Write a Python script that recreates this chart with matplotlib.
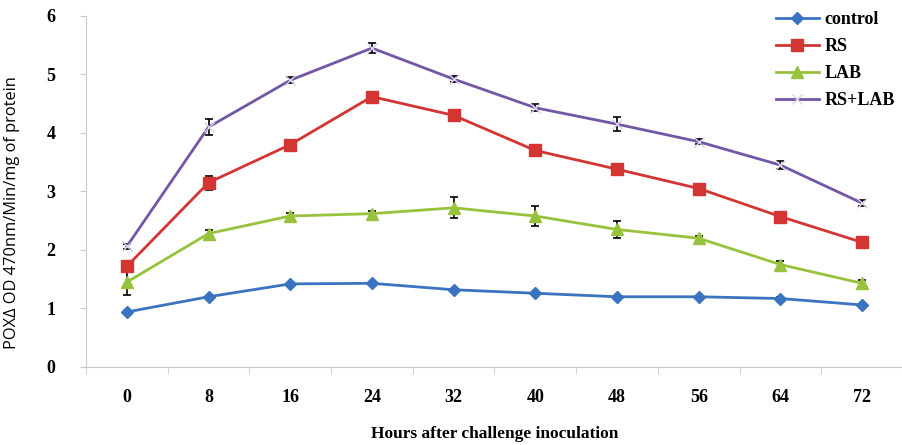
import numpy as np
import matplotlib.pyplot as plt

hours = ['0', '8', '16', '24', '32', '40', '48', '56', '64', '72']

control = [0.94, 1.20, 1.42, 1.43, 1.32, 1.26, 1.20, 1.20, 1.17, 1.06]
rs = [1.72, 3.15, 3.80, 4.62, 4.30, 3.70, 3.38, 3.05, 2.57, 2.13]
lab = [1.45, 2.28, 2.58, 2.62, 2.72, 2.58, 2.35, 2.20, 1.75, 1.43]
rs_lab = [2.06, 4.10, 4.90, 5.45, 4.92, 4.43, 4.15, 3.85, 3.45, 2.80]

control_err = [0.02, 0.02, 0.02, 0.02, 0.02, 0.02, 0.02, 0.02, 0.02, 0.02]
rs_err = [0.04, 0.12, 0.03, 0.03, 0.03, 0.03, 0.08, 0.03, 0.03, 0.03]
lab_err = [0.22, 0.06, 0.06, 0.05, 0.18, 0.17, 0.15, 0.04, 0.06, 0.06]
rs_lab_err = [0.05, 0.13, 0.05, 0.08, 0.05, 0.06, 0.12, 0.04, 0.07, 0.05]

x = np.arange(len(hours))

fig = plt.figure(figsize=(9.03, 4.45), dpi=100)
ax = fig.add_axes([0.0952, 0.1753, 0.9048, 0.789])

series = [
    ('control', control, control_err, '#3a73c0', 'D', 6),
    ('RS', rs, rs_err, '#d33532', 's', 8),
    ('LAB', lab, lab_err, '#97c23c', '^', 8),
    ('RS+LAB', rs_lab, rs_lab_err, '#7356a6', 'x', 7),
]

for name, vals, err, col, mk, ms in series:
    # error bars go underneath so the markers hide the tiny ones
    ax.errorbar(x, vals, yerr=err, fmt='none', ecolor='black',
                elinewidth=1.2, capsize=3, capthick=1.2, zorder=1)
    ax.plot(x, vals, color=col, lw=2.0, marker=mk, markersize=ms,
            markeredgecolor='#d8d0e8' if mk == 'x' else col,
            markeredgewidth=1.0, label=name, zorder=2)

ax.set_xlim(-0.5, len(hours) - 0.5)
ax.set_ylim(0, 6)
ax.set_yticks(range(7))

serif = {'family': 'Liberation Serif', 'weight': 'bold', 'size': 13}
ax.set_xticks(x)
ax.set_xticklabels(hours, fontdict=serif)
ax.set_yticklabels([str(v) for v in range(7)], fontdict=serif)

# category axis ticks sit between the groups
ax.set_xticks(np.arange(-0.5, len(hours)), minor=True)
ax.tick_params(axis='x', which='major', length=0, pad=16)
ax.tick_params(axis='x', which='minor', length=5, color='#c8c8c8', direction='out')
ax.tick_params(axis='y', length=4, color='#c8c8c8', pad=18)

for side in ['top', 'right']:
    ax.spines[side].set_visible(False)
for side in ['left', 'bottom']:
    ax.spines[side].set_color('#c8c8c8')

ax.set_xlabel('Hours after challenge inoculation', fontfamily='Liberation Serif',
              fontweight='bold', fontsize=12.5, labelpad=14)
ax.set_ylabel('POXΔ OD 470nm/Min/mg of protein', fontfamily='Open Sans',
              fontsize=11.8)
ax.yaxis.set_label_coords(-0.081, 0.44)

leg = ax.legend(loc='upper right', bbox_to_anchor=(1.01, 1.06), frameon=False,
                prop={'family': 'Liberation Serif', 'weight': 'bold', 'size': 13},
                handlelength=2.4, handletextpad=0.3, labelspacing=0.55)

plt.savefig('out.png', dpi=100)
